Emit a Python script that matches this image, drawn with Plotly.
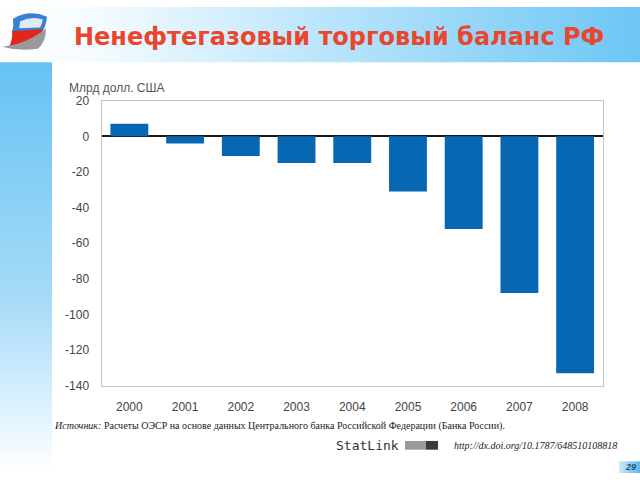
import plotly.graph_objects as go

years = ["2000", "2001", "2002", "2003", "2004", "2005", "2006", "2007", "2008"]
balance = [7, -4, -11, -15, -15, -31, -52, -88, -133]
y_ticks = [20, 0, -20, -40, -60, -80, -100, -120, -140]

title_text = "Ненефтегазовый торговый баланс РФ"
unit_text = "Млрд долл. США"
source_label = "Источник:"
source_text = " Расчеты ОЭСР на основе данных Центрального банка Российской Федерации (Банка России)."
statlink_text = "StatLink"
url_text = "http://dx.doi.org/10.1787/648510108818"
page_text = "29"

W, H = 640, 480
BLUE = "#0867b2"
SKY = "#6cc6f5"

fig = go.Figure()

# main bars
fig.add_trace(go.Bar(x=years, y=balance, marker=dict(color=BLUE, line=dict(width=0)),
                     xaxis="x", yaxis="y", showlegend=False, hoverinfo="x+y"))

# decorative background gradients on a pixel-space overlay axis
def grad_rect(x0, x1, y0, y1, gtype, scale):
    fig.add_trace(go.Scatter(
        x=[x0, x1, x1, x0, x0], y=[y0, y0, y1, y1, y0],
        mode="lines", line=dict(width=0), fill="toself",
        fillgradient=dict(type=gtype, colorscale=scale),
        xaxis="x2", yaxis="y2", showlegend=False, hoverinfo="skip"))

# header band (white -> sky blue, left to right)
grad_rect(0, 640, 0, 57, "horizontal", [[0, "#ffffff"], [0.15, "#f4fbff"], [1, SKY]])
# left stripe (white -> sky blue, top to bottom)
grad_rect(0, 52, 57, 480, "vertical", [[0, "#ffffff"], [0.4, "#a9dcf8"], [1, "#66c2f3"]])
# page number box
grad_rect(619, 640, 468, 480, "horizontal", [[0, "#cdeafb"], [1, "#5ab8ef"]])

shapes = []
# logo: blue top, red bottom, grey swoosh
shapes.append(dict(type="path", xref="x2", yref="y2",
                   path="M 13 12 Q 30 2 47 10 Q 46 19 43 24 L 12 26 Q 14 19 13 12 Z",
                   fillcolor="#3a7fd0", line=dict(width=0), layer="above"))
shapes.append(dict(type="path", xref="x2", yref="y2",
                   path="M 20 15 Q 32 9 43 13 Q 42 18 40 21 L 19 22 Q 20 18 20 15 Z",
                   fillcolor="#dfe9f7", line=dict(width=0), layer="above"))
shapes.append(dict(type="path", xref="x2", yref="y2",
                   path="M 12 25 L 43 23 Q 41 32 36 37 Q 22 37 9 41 Q 13 33 12 25 Z",
                   fillcolor="#e0261f", line=dict(width=0), layer="above"))
shapes.append(dict(type="path", xref="x2", yref="y2",
                   path="M 2 41 Q 28 38 46 22 Q 46 36 38 43 Q 20 46 2 41 Z",
                   fillcolor="#9a9a9a", line=dict(width=0), layer="above"))
# StatLink icon
shapes.append(dict(type="rect", xref="x2", yref="y2", x0=405, x1=426, y0=447, y1=456,
                   fillcolor="#9a9a9a", line=dict(width=0), layer="above"))
shapes.append(dict(type="rect", xref="x2", yref="y2", x0=426, x1=438, y0=447, y1=456,
                   fillcolor="#3a3a3a", line=dict(width=0), layer="above"))

annotations = [
    dict(text="<b>" + title_text + "</b>", xref="x2", yref="y2", x=72, y=31,
         xanchor="left", yanchor="middle", showarrow=False,
         font=dict(family="DejaVu Sans, Liberation Sans, Arial", size=24, color="#e8472e")),
    dict(text=unit_text, xref="x2", yref="y2", x=67, y=83,
         xanchor="left", yanchor="middle", showarrow=False,
         font=dict(family="Liberation Sans, Arial", size=12, color="#555555")),
    dict(text="<i>" + source_label + "</i>" + source_text, xref="x2", yref="y2", x=52, y=432,
         xanchor="left", yanchor="middle", showarrow=False,
         font=dict(family="Liberation Serif, Times New Roman", size=10, color="#222222")),
    dict(text=statlink_text, xref="x2", yref="y2", x=334, y=452,
         xanchor="left", yanchor="middle", showarrow=False,
         font=dict(family="DejaVu Sans Mono, monospace", size=13, color="#333333")),
    dict(text="<i>" + url_text + "</i>", xref="x2", yref="y2", x=452, y=452,
         xanchor="left", yanchor="middle", showarrow=False,
         font=dict(family="Liberation Serif, Times New Roman", size=10, color="#222222")),
    dict(text="<b><i>" + page_text + "</i></b>", xref="x2", yref="y2", x=630, y=474,
         xanchor="center", yanchor="middle", showarrow=False,
         font=dict(family="Liberation Sans, Arial", size=9, color="#2a4f80")),
]

tick_font = dict(family="Liberation Sans, Arial", size=12, color="#444444")

fig.update_layout(
    width=W, height=H,
    margin=dict(l=0, r=0, t=0, b=0),
    paper_bgcolor="white", plot_bgcolor="rgba(0,0,0,0)",
    bargap=0.32,
    xaxis=dict(domain=[101.5 / W, 603 / W], anchor="y", type="category",
               showline=True, mirror=True, linecolor="#c4c4c4", linewidth=1,
               showgrid=False, ticks="", ticklabelstandoff=10, tickfont=tick_font),
    yaxis=dict(domain=[1 - 390 / H, 1 - 96.5 / H], anchor="x", range=[-140, 20],
               tickvals=y_ticks, ticktext=[str(v) for v in y_ticks],
               showline=True, mirror=True, linecolor="#c4c4c4", linewidth=1,
               showgrid=False, zeroline=True, zerolinecolor="#1a1a1a", zerolinewidth=1.5,
               ticks="", ticklabelstandoff=9, tickfont=tick_font, layer="above traces"),
    xaxis2=dict(domain=[0, 1], anchor="y2", range=[0, W], visible=False, fixedrange=True),
    yaxis2=dict(domain=[0, 1], anchor="x2", range=[H, 0], visible=False, fixedrange=True),
    shapes=shapes,
    annotations=annotations,
)

fig.write_html("out.html", config={"displayModeBar": False},
               post_script="document.body.style.margin='0';document.body.style.overflow='hidden';")
